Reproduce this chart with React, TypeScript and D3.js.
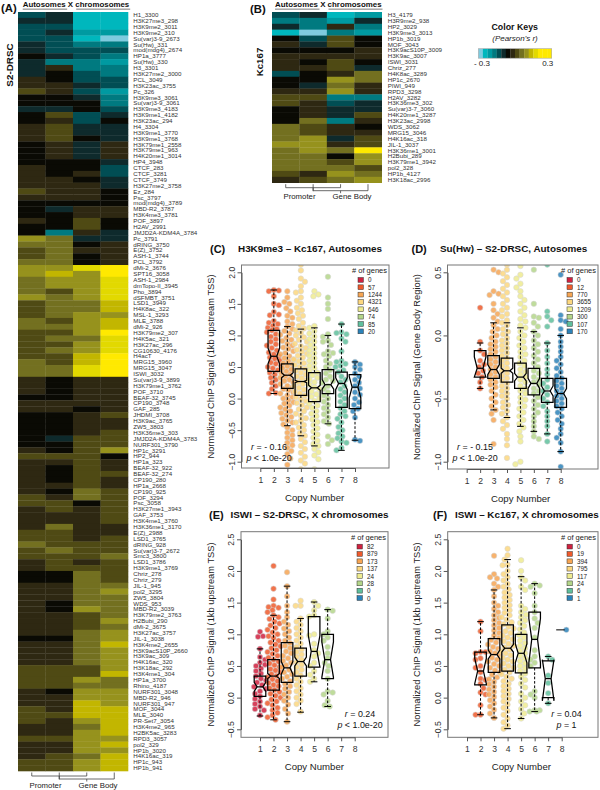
import { useEffect, useRef } from 'react';
import * as d3 from 'd3';

// ---- heatmap data: binned Pearson's r, one step = 0.05 (colour key has 14 bins) ----
const levels = [-6, -5, -4, -3, -2, -1, 0, 1, 2, 3, 4, 5, 6, 7];
const palette = ['#7fcbdf', '#00b7bd', '#009aa1', '#007a80', '#014e54', '#0e2a2c', '#0a0a04', '#2e2812', '#4f4a14', '#737020', '#96921d', '#c2b600', '#e2d900', '#ffe900'];
const columnNames = ['a', 'b', 'c', 'd'];

const labelsA = [
  'H1_3300', 'H3K27me3_298', 'H3K9me2_3011', 'H3K9me2_310', 'Su(var)3-9_2673', 'Su(Hw)_331', 'mod(mdg4)_2674', 'HP1a_3777', 'Su(Hw)_330', 'H3_3301',
  'H3K27me2_3000', 'PCL_3049', 'H3K23ac_3755', 'Pc_326', 'H3K9me3_3061', 'Su(var)3-9_3061', 'H3K9me3_4183', 'H3K9me1_4182', 'H3K23ac_294', 'H4_3304',
  'H3K9me1_3770', 'H3K9me1_3768', 'H3K79me1_2558', 'H3K79me1_963', 'H4K20me1_3014', 'HP4_3948', 'CTCF_283', 'CTCF_3281', 'CTCF_3749', 'H3K27me2_3758',
  'Ez_284', 'Psc_3797', 'mod(mdg4)_3789', 'MBD-R2_3787', 'H3K4me3_3781', 'POF_3897', 'H2AV_2991', 'JMJD2A-KDM4A_3784', 'Pc_3791', 'dRING_3750',
  'E(Z)_3752', 'ASH-1_3744', 'PCL_3792', 'dMi-2_3676', 'SPT16_3058', 'ASH-1_2984', 'dmTopo-II_3945', 'Pho_3894', 'dSFMBT_3751', 'LSD1_3949',
  'H4K8ac_322', 'MSL-1_3293', 'MLE_3788', 'dMi-2_926', 'H3K79me2_307', 'H4K5ac_321', 'H3K27ac_296', 'CG10630_4176', 'H4acT', 'MRG15_3960',
  'MRG15_3047', 'ISWI_3032', 'Su(var)3-9_3899', 'H3K79me1_3762', 'POF_3710', 'BEAF-32_3745', 'CP190_3748', 'GAF_285', 'JHDMI_3708', 'H3K9ac_3765',
  'ZW5_3803', 'H3K36me3_303', 'JMJD2A-KDM4A_3783', 'NURF301_3790', 'HP1c_3291', 'HP2_944', 'HP1a_323', 'BEAF-32_922', 'BEAF-32_274', 'CP190_280',
  'HP1a_2668', 'CP190_925', 'POF_3294', 'Psc_3058', 'H3K27me1_3943', 'GAF_3753', 'H3K4me1_3760', 'H3K36me1_3170', 'E(Z)_2988', 'LSD1_3765',
  'dRING_928', 'Su(var)3-7_2672', 'Smc3_3800', 'LSD1_3786', 'H3K9me1_3769', 'Chriz_278', 'Chriz_279', 'JIL-1_945', 'pol2_3295', 'ZW5_3804',
  'WDS_953', 'MBD-R2_3039', 'H3K79me2_3763', 'H2Bubi_290', 'dMi-2_3675', 'H3K27ac_3757', 'JIL-1_3038', 'H3K4me2_2655', 'H3K9acS10P_2660', 'H3K9ac_309',
  'H4K16ac_320', 'H3K18ac_292', 'H3K4me1_304', 'HP1a_3700', 'Rhino_4187', 'NURF301_3048', 'MBD-R2_946', 'NURF301_947', 'MOF_3044', 'MLE_3040',
  'PR-Set7_3054', 'H3K4me2_965', 'H2BK5ac_3283', 'RPD3_3057', 'pol2_329', 'HP1b_3020', 'H4K16ac_319', 'HP1c_943', 'HP1b_941',
];

const heatA1 = [
  -2, -1, -2, -2, -2, -1, -1, 0, -1, -1, -1, 1, 1, 2, 0, 0, -1, 0, 0, 1, 1, 1, 0, 0, 0, 0, 1, 1, 1, 1, 2, 1,
  0, 0, 0, 1, 0, 0, 4, 3, 2, 2, 3, 4, 4, 3, 3, 3, 4, 2, 2, 2, 3, 3, 2, 2, 2, 2, 2, 3, 3, 3, 1, 1, 1, 0,
  1, 1, 0, 0, 0, 0, 0, 0, 1, 2, 1, 1, 1, 1, 1, 1, 2, 2, 1, 1, 1, 1, 2, 2, 3, 2, 2, 1, 1, 0, 0, 1,
  1, 1, 1, 1, 1, 1, 1, 1, 0, 1, 1, 1, 1, 2, 2, 2, 2, 1, 1, 1, 2, 2, 2, 1, 1, 2, 1, 1, 1, 2, 2,
];
const heatA2 = [
  -1, -1, -2, -1, -2, -2, -2, -1, -3, 1, 0, 0, 1, 1, 0, 0, -1, 2, 1, 2, 2, 2, 1, 1, 1, 0, 0, 0, 1, 1, 1, 1,
  0, -1, 0, 0, 0, -3, 3, 3, 3, 3, 3, 4, 5, 4, 4, 2, 3, 3, 3, 3, 2, 3, 2, 3, 2, 3, 2, 2, 3, 3, 0, 0, 0, 0,
  1, 1, 0, 0, 0, 0, -1, 0, 0, 2, 1, 0, 0, 0, 1, 0, 1, 2, 2, 1, 1, 3, 2, 2, 2, 3, 2, 2, 2, 0, 0, 1,
  1, 1, 0, 0, 1, 1, 1, 1, 0, 1, 1, 1, 1, 2, 2, 2, 2, 0, 1, 1, 1, 2, 1, 1, 1, 2, 1, 1, 2, 2, 2,
];
const heatA3 = [
  -5, -5, -5, -4, -5, -3, -2, -2, -3, -3, -2, -2, -1, -2, -1, 0, 0, -2, -2, -1, -1, 0, -1, -1, -1, 0, 0, 1, 0, 1, 1, 1,
  0, 1, 1, 2, 2, 1, -1, 0, 1, 0, 0, 6, 4, 4, 4, 4, 4, 3, 3, 4, 4, 4, 4, 3, 4, 4, 5, 5, 6, 6, 1, 1, 1, 1,
  1, 0, 1, 1, 1, 1, 2, 2, 2, 2, 2, 2, 2, 2, 2, 3, 3, 0, 1, 1, 1, 1, 1, 1, 2, 2, 2, 1, 2, 3, 3, 3,
  3, 3, 3, 4, 2, 2, 2, 3, 3, 3, 3, 3, 3, 2, 2, 4, 3, 4, 4, 5, 5, 5, 4, 3, 4, 4, 4, 4, 3, 4, 4,
];
const heatA4 = [
  -5, -5, -5, -4, -6, -3, -2, -3, -4, -3, -3, -2, -2, -4, -3, -3, -2, -1, 0, -1, -1, -1, 1, 1, 1, -1, -2, -2, -1, -1, 0, 0,
  0, 1, 1, 0, 0, -1, -1, 1, 1, 1, 1, 7, 7, 6, 6, 6, 6, 5, 5, 4, 5, 5, 7, 6, 6, 6, 7, 7, 7, 7, 1, 1, 1, 1,
  1, 1, 2, 1, 1, 2, 2, 2, 4, 0, 1, 1, 2, 1, 1, 2, 2, 2, 2, 2, 2, 1, 1, 2, 2, 2, 3, 2, 2, 2, 2, 3,
  4, 3, 3, 3, 3, 4, 3, 4, 4, 5, 4, 4, 4, 4, 5, 3, 3, 4, 4, 4, 5, 5, 5, 5, 5, 4, 5, 4, 5, 5, 5,
];

const labelsB = [
  'H3_4179', 'H3R9me2_938', 'HP2_3029', 'H3K9me3_3013', 'HP1b_3019', 'MOF_3043', 'H3K9acS10P_3009', 'H3K9ac_3007', 'ISWI_3031', 'Chriz_277',
  'H4K8ac_3289', 'HP1c_2670', 'PIWI_949', 'RPD3_3298', 'H2AV_3282', 'H3K36me3_302', 'Su(var)3-7_3060', 'H4K20me1_3287', 'H3K23ac_2998', 'WDS_3062',
  'MRG15_3046', 'H4K16ac_318', 'JIL-1_3037', 'H3K36me1_3001', 'H2Bubi_289', 'H3K79me1_3942', 'pol2_328', 'HP1b_4127', 'H3K18ac_2996',
];
const heatB1 = [-2, -3, -1, -5, 0, 1, 0, 1, 1, 1, -2, 0, 0, 1, 2, 2, 0, 0, 0, 3, 3, 3, 4, 3, 3, 3, 3, 2, 1];
const heatB2 = [-1, -3, -3, -6, -2, -1, 0, 1, 0, 1, 0, 0, -1, 1, 2, 1, 1, 1, 3, 2, 2, 4, 4, 4, 3, 3, 3, 1, 2];
const heatB3 = [-5, -4, 1, -3, 2, 2, 0, 1, 2, 2, 1, 4, 3, 4, -3, -2, -1, -1, -3, 1, 1, -1, 1, 3, 0, 2, 3, 4, 3];
const heatB4 = [-4, -1, -3, -4, 0, 0, 1, 1, 0, -1, 3, 3, 1, 1, -3, -1, -1, 2, 1, 0, 1, 2, 2, 7, 4, 4, 2, 3, 4];

// ---- boxplot panels: copy number -> signal values ----
const copyNumbers = [1, 2, 3, 4, 5, 6, 7, 8];
const copyColors = ['#d0213f', '#ee5a2c', '#f6a553', '#fcd77f', '#eeeb8f', '#b4d689', '#5fbf9c', '#2b83ba'];

const cPts2 = [1.72, 1.71, 1.7, 1.62, 1.5, 1.48, 1.37, 1.33, 1.32, 1.23, 1.2, 1.18, 1.15, 1.12, 1.1, 1.08, 1.05, 1.02, 0.98, 0.94, 0.9, 0.86, 0.84, 0.8, 0.76, 0.73, 0.7, 0.67, 0.65, 0.63, 0.6, 0.57, 0.55, 0.52, 0.5, 0.48, 0.45, 0.41, 0.38, 0.33, 0.3, 0.25, 0.2, 0.15, 0.09, 0.08];
const cPts3 = [1.7, 1.6, 1.53, 1.5, 1.43, 1.38, 1.31, 1.28, 1.22, 1.18, 1.14, 1.1, 1.07, 1.03, 1.01, 0.96, 0.93, 0.91, 0.87, 0.84, 0.81, 0.79, 0.75, 0.72, 0.7, 0.67, 0.64, 0.62, 0.59, 0.56, 0.54, 0.51, 0.48, 0.46, 0.43, 0.4, 0.38, 0.35, 0.33, 0.3, 0.28, 0.25, 0.23, 0.2, 0.18, 0.15, 0.13, 0.1, 0.08, 0.05, 0.02, 0, -0.03, -0.06, -0.08, -0.11, -0.14, -0.17, -0.2, -0.23, -0.26, -0.29, -0.32, -0.35, -0.38, -0.41, -0.46, -0.5, -0.54, -0.58, -0.62, -0.66, -0.7, -0.74, -0.78, -0.83, -0.88, -0.95, -1.05];
const cPts4 = [2.12, 2.03, 1.9, 1.85, 1.78, 1.7, 1.68, 1.6, 1.55, 1.5, 1.44, 1.4, 1.35, 1.31, 1.26, 1.2, 1.15, 1.11, 1.08, 1.04, 1, 0.97, 0.93, 0.9, 0.87, 0.83, 0.8, 0.77, 0.74, 0.71, 0.68, 0.65, 0.62, 0.59, 0.56, 0.53, 0.5, 0.47, 0.44, 0.41, 0.38, 0.35, 0.32, 0.29, 0.26, 0.23, 0.2, 0.17, 0.14, 0.11, 0.08, 0.05, 0.02, -0.01, -0.04, -0.07, -0.1, -0.14, -0.17, -0.2, -0.24, -0.27, -0.31, -0.35, -0.38, -0.42, -0.46, -0.5, -0.55, -0.59, -0.64, -0.69, -0.75, -0.8, -0.86, -0.92, -0.98, -1.03, -1.12];
const cPts5 = [1.7, 1.65, 1.62, 1.15, 1.12, 1.07, 1.03, 0.98, 0.94, 0.9, 0.85, 0.8, 0.76, 0.72, 0.68, 0.64, 0.6, 0.56, 0.52, 0.48, 0.44, 0.41, 0.37, 0.33, 0.3, 0.26, 0.22, 0.18, 0.15, 0.11, 0.07, 0.03, 0, -0.04, -0.08, -0.11, -0.15, -0.2, -0.24, -0.28, -0.33, -0.37, -0.42, -0.47, -0.52, -0.57, -0.62, -0.67, -0.72, -0.75, -0.8, -0.85, -0.9, -0.96, -1.12];
const cPts6 = [1.93, 1.6, 1.5, 1.42, 1.26, 1.02, 0.98, 0.92, 0.9, 0.85, 0.75, 0.72, 0.7, 0.67, 0.6, 0.55, 0.5, 0.45, 0.4, 0.35, 0.3, 0.28, 0.25, 0.2, 0.15, 0.1, 0.05, 0, -0.05, -0.1, -0.15, -0.2, -0.25, -0.3, -0.36, -0.4, -0.6, -0.66, -0.72];
const cPts7 = [1.18, 1.05, 1.04, 1.02, 0.95, 0.9, 0.75, 0.6, 0.58, 0.55, 0.52, 0.5, 0.45, 0.42, 0.35, 0.3, 0.26, 0.2, 0.15, 0.1, 0.05, 0, -0.05, -0.1, -0.15, -0.2, -0.25, -0.28, -0.32, -0.38, -0.45, -0.5, -0.55, -0.6, -0.63, -0.68, -0.7, -0.78, -0.82];
const cPts8 = [0.58, 0.54, 0.5, 0.46, 0.4, 0.35, 0.3, 0.25, 0.2, 0.16, 0.1, 0.06, 0, -0.06, -0.1, -0.16, -0.2, -0.3, -0.65, -0.67];
const cCounts = ['0', '57', '1244', '4321', '646', '74', '85', '20'];
const cLow = [null, 0.08, -0.43, -0.59, -0.75, -0.4, -0.82, -0.66];
const cQ1 = [null, 0.43, 0.16, 0.05, -0.05, 0.08, -0.14, -0.16];
const cMed = [null, 0.67, 0.37, 0.27, 0.17, 0.22, 0.24, 0.18];
const cQ3 = [null, 1.08, 0.55, 0.47, 0.41, 0.46, 0.42, 0.38];
const cHigh = [null, 1.72, 1.14, 1.1, 1.12, 1, 1.18, 0.58];
const cNotchLo = [null, 0.55, 0.33, 0.25, 0.13, 0.15, 0.14, 0.01];
const cNotchHi = [null, 0.8, 0.41, 0.29, 0.21, 0.3, 0.33, 0.35];

const dPts2 = [0.22, -0.05, -0.12, -0.15, -0.2, -0.23, -0.25, -0.28, -0.3, -0.33, -0.37, -0.42];
const dPts3 = [0.52, 0.5, 0.35, 0.33, 0.32, 0.25, 0.2, 0.17, 0.14, 0.11, 0.08, 0.05, 0.03, 0, -0.02, -0.05, -0.07, -0.09, -0.11, -0.13, -0.15, -0.17, -0.19, -0.21, -0.23, -0.25, -0.27, -0.29, -0.31, -0.33, -0.35, -0.37, -0.39, -0.41, -0.44, -0.47, -0.5, -0.53, -0.56, -0.59, -0.62, -0.67, -0.86];
const dPts4 = [0.56, 0.52, 0.49, 0.46, 0.43, 0.4, 0.37, 0.34, 0.31, 0.28, 0.25, 0.22, 0.2, 0.17, 0.15, 0.12, 0.1, 0.08, 0.05, 0.03, 0.01, -0.02, -0.04, -0.06, -0.08, -0.1, -0.12, -0.14, -0.16, -0.18, -0.2, -0.22, -0.24, -0.26, -0.28, -0.3, -0.32, -0.34, -0.36, -0.38, -0.4, -0.42, -0.44, -0.46, -0.48, -0.5, -0.53, -0.55, -0.57, -0.6, -0.62, -0.65, -0.68, -0.71, -0.74, -0.78, -0.82, -0.87, -0.97];
const dPts5 = [0.55, 0.48, 0.45, 0.41, 0.38, 0.35, 0.31, 0.28, 0.25, 0.22, 0.19, 0.16, 0.13, 0.11, 0.08, 0.06, 0.03, 0, -0.02, -0.05, -0.08, -0.1, -0.13, -0.15, -0.17, -0.2, -0.22, -0.24, -0.27, -0.29, -0.31, -0.33, -0.35, -0.37, -0.4, -0.42, -0.44, -0.46, -0.49, -0.51, -0.53, -0.56, -0.58, -0.61, -0.64, -0.67, -0.7, -0.73, -0.76, -0.8, -0.84, -1, -1.02];
const dPts6 = [0.52, 0.25, 0.15, 0.14, 0.1, 0.07, 0.03, 0, -0.04, -0.07, -0.1, -0.13, -0.16, -0.19, -0.22, -0.25, -0.28, -0.3, -0.33, -0.35, -0.37, -0.39, -0.42, -0.44, -0.46, -0.49, -0.52, -0.55, -0.58, -0.61, -0.64, -0.68, -0.72, -0.76, -0.8, -0.82];
const dPts7 = [0.56, 0.19, 0.15, 0.12, 0.07, -0.06, -0.12, -0.17, -0.22, -0.27, -0.31, -0.35, -0.38, -0.41, -0.44, -0.47, -0.5, -0.53, -0.56, -0.6, -0.64, -0.68, -0.72, -0.78, -0.84];
const dPts8 = [0.48, 0.16, 0.12, 0.11, 0.05, 0, -0.05, -0.09, -0.13, -0.17, -0.2, -0.23, -0.26, -0.29, -0.32, -0.34, -0.36, -0.38, -0.4, -0.42, -0.44, -0.46, -0.48, -0.5, -0.52, -0.54, -0.56, -0.58, -0.61, -0.64, -0.67, -0.7, -0.74, -0.78, -0.81, -0.85, -0.92, -1.04];
const dCounts = ['0', '12', '770', '3655', '1209', '300', '107', '170'];
const dLow = [null, -0.42, -0.59, -0.65, -0.72, -0.76, -0.78, -0.92];
const dQ1 = [null, -0.33, -0.34, -0.37, -0.42, -0.47, -0.53, -0.57];
const dMed = [null, -0.26, -0.27, -0.28, -0.33, -0.38, -0.44, -0.46];
const dQ3 = [null, -0.12, -0.16, -0.18, -0.22, -0.26, -0.34, -0.34];
const dHigh = [null, -0.06, 0.1, 0.1, 0.06, 0.03, -0.06, 0];
const dNotchLo = [null, -0.33, -0.31, -0.3, -0.36, -0.42, -0.48, -0.5];
const dNotchHi = [null, -0.17, -0.23, -0.26, -0.3, -0.34, -0.4, -0.42];

const ePts1 = [1.04, 0.97, 0.96, 0.77, 0.64, 0.6, 0.55, 0.52, 0.5, 0.46, 0.42, 0.38, 0.34, 0.3, 0.27, 0.24, 0.2, 0.17, 0.14, 0.1, 0.06, 0.02, -0.02, -0.06, -0.1, -0.14, -0.18, -0.2, -0.28];
const ePts2 = [2.08, 1.72, 1.55, 1.45, 1.43, 1.42, 1.38, 1.35, 1.3, 1.27, 1.24, 1.2, 1.17, 1.14, 1.1, 1.07, 1.03, 1, 0.97, 0.94, 0.9, 0.87, 0.84, 0.81, 0.78, 0.75, 0.72, 0.69, 0.66, 0.63, 0.6, 0.57, 0.54, 0.51, 0.48, 0.45, 0.43, 0.4, 0.37, 0.34, 0.32, 0.29, 0.26, 0.23, 0.2, 0.18, 0.15, 0.12, 0.09, 0.06, 0.03, 0, -0.03, -0.06, -0.09, -0.12, -0.16, -0.2, -0.24, -0.28, -0.31, -0.35];
const ePts3 = [1.98, 1.76, 1.6, 1.45, 1.35, 1.27, 1.2, 1.15, 1.09, 1.05, 1, 0.95, 0.9, 0.86, 0.82, 0.78, 0.73, 0.7, 0.66, 0.62, 0.58, 0.55, 0.51, 0.48, 0.44, 0.4, 0.37, 0.33, 0.3, 0.26, 0.22, 0.18, 0.14, 0.09, 0.05, 0, -0.05, -0.11, -0.18, -0.25, -0.38];
const ePts4 = [1.53, 1.45, 1.45, 1.25, 1.2, 1.15, 1.1, 1.05, 1, 0.95, 0.9, 0.85, 0.8, 0.76, 0.72, 0.68, 0.64, 0.6, 0.56, 0.52, 0.48, 0.44, 0.4, 0.35, 0.3, 0.25, 0.2, 0.15, 0.1, 0.05, 0, -0.05, -0.1, -0.22];
const ePts5 = [1.51, 1.45, 1.38, 1.3, 1.28, 1, 0.98, 0.85, 0.75, 0.7, 0.65, 0.55, 0.5, 0.42, 0.36, 0.3, 0.25];
const ePts6 = [1.39, 1.37, 1.25, 1.05, 1, 0.95, 0.9, 0.8, 0.7, 0.62, 0.55, 0.5, 0.42, 0.3, 0.1, 0.08, 0.05, -0.05, -0.12, -0.14];
const eCounts = ['82', '879', '173', '137', '24', '28', '0', '0'];
const eLow = [-0.29, -0.35, -0.38, -0.23, 0.25, -0.14, null, null];
const eQ1 = [0.02, 0.12, 0.24, 0.34, 0.48, 0.3, null, null];
const eMed = [0.17, 0.34, 0.47, 0.57, 0.73, 0.6, null, null];
const eQ3 = [0.34, 0.6, 0.87, 0.78, 1.28, 1, null, null];
const eHigh = [0.77, 1.3, 1.76, 1.25, 1.51, 1.39, null, null];
const eNotchLo = [0.1, 0.3, 0.37, 0.5, 0.48, 0.32, null, null];
const eNotchHi = [0.24, 0.38, 0.57, 0.64, 0.98, 0.88, null, null];

const fPts2 = [1.2, 1.05, 0.72, 0.72, 0.7, 0.62, 0.6, 0.5, 0.47, 0.4, 0.3, 0.28, 0.22, 0.15, 0.08, 0.05, -0.12, -0.27, -0.27];
const fPts3 = [2.24, 1.95, 1.9, 1.88, 1.8, 1.75, 1.7, 1.6, 1.5, 1.45, 1.4, 1.35, 1.3, 1.26, 1.22, 1.18, 1.14, 1.1, 1.06, 1.02, 0.98, 0.94, 0.91, 0.87, 0.84, 0.8, 0.77, 0.73, 0.7, 0.67, 0.63, 0.6, 0.57, 0.53, 0.5, 0.47, 0.43, 0.4, 0.36, 0.32, 0.29, 0.25, 0.21, 0.17, 0.13, 0.09, 0.05, 0.01, -0.04, -0.09, -0.14, -0.19, -0.25, -0.32];
const fPts4 = [2.35, 2.25, 2.18, 2.1, 2.09, 2, 1.95, 1.9, 1.85, 1.8, 1.75, 1.71, 1.66, 1.62, 1.58, 1.54, 1.5, 1.46, 1.42, 1.38, 1.34, 1.3, 1.27, 1.23, 1.19, 1.16, 1.12, 1.09, 1.05, 1.02, 0.98, 0.95, 0.92, 0.89, 0.85, 0.82, 0.79, 0.76, 0.73, 0.7, 0.67, 0.63, 0.6, 0.57, 0.54, 0.5, 0.47, 0.44, 0.4, 0.37, 0.33, 0.3, 0.26, 0.22, 0.18, 0.14, 0.1, 0.06, 0.02, -0.02, -0.06, -0.11, -0.16, -0.21, -0.27, -0.33, -0.39, -0.44, -0.49];
const fPts5 = [2.17, 2, 1.9, 1.85, 1.75, 1.7, 1.45, 1.4, 1.35, 1.31, 1.27, 1.22, 1.18, 1.13, 1.08, 1.03, 0.99, 0.95, 0.9, 0.86, 0.82, 0.78, 0.74, 0.7, 0.66, 0.62, 0.58, 0.54, 0.5, 0.46, 0.42, 0.38, 0.33, 0.28, 0.22, 0.16, 0.06, 0, -0.06, -0.12, -0.18, -0.25, -0.33];
const fPts6 = [1.8, 1.77, 1.75, 1.65, 1.45, 1.35, 1.25, 1.18, 1.1, 0.95, 0.75, 0.65, 0.6, 0.55, 0.5, 0.1, 0.05, 0, -0.2, -0.22, -0.22, -0.2];
const fPts7 = [0.65, 0.6, 0.35, 0.23, 0.07, -0.09];
const fPts8 = [1.07];
const fCounts = ['0', '19', '394', '795', '117', '24', '6', '1'];
const fLow = [null, -0.27, -0.32, -0.49, -0.33, -0.22, -0.09, null];
const fQ1 = [null, 0.2, 0.4, 0.42, 0.39, 0.47, 0, null];
const fMed = [null, 0.42, 0.68, 0.78, 0.7, 0.92, 0.3, 1.07];
const fQ3 = [null, 0.72, 0.93, 1.15, 1, 1.35, 0.58, null];
const fHigh = [null, 1.2, 1.7, 2.18, 1.91, 1.8, 0.65, null];
const fNotchLo = [null, 0.22, 0.61, 0.72, 0.55, 0.55, -0.05, null];
const fNotchHi = [null, 0.62, 0.75, 0.84, 0.85, 1.25, 0.6, null];

const FONT = '"Liberation Sans", Arial, sans-serif';

const panels = [
  {
    tag: '(C)', tagX: 210, title: 'H3K9me3 – Kc167, Autosomes', titleX: 238, titleY: 252,
    frame: [241.5, 265, 389, 468], xRange: [260.3, 355], yDomain: [-1, 2], yRange: [461.7, 272.3],
    yTicks: [-1, -0.5, 0, 0.5, 1, 1.5, 2], yLabel: 'Normalized ChIP Signal (1kb upstream TSS)',
    groups: [[], cPts2, cPts3, cPts4, cPts5, cPts6, cPts7, cPts8], counts: cCounts,
    low: cLow, q1: cQ1, med: cMed, q3: cQ3, high: cHigh, notchLo: cNotchLo, notchHi: cNotchHi,
    r: 'r = - 0.16', p: 'p < 1.0e-20', statX: 269, statY: 450,
  },
  {
    tag: '(D)', tagX: 411.5, title: 'Su(Hw) – S2-DRSC, Autosomes', titleX: 440, titleY: 252,
    frame: [447.5, 265, 598, 469], xRange: [466.7, 560.7], yDomain: [-1, 0.5], yRange: [461.7, 272.3],
    yTicks: [-1, -0.5, 0, 0.5], yLabel: 'Normalized ChIP Signal (Gene Body Region)',
    groups: [[], dPts2, dPts3, dPts4, dPts5, dPts6, dPts7, dPts8], counts: dCounts,
    low: dLow, q1: dQ1, med: dMed, q3: dQ3, high: dHigh, notchLo: dNotchLo, notchHi: dNotchHi,
    r: 'r = - 0.15', p: 'p < 1.0e-20', statX: 475, statY: 450,
  },
  {
    tag: '(E)', tagX: 209, title: 'ISWI – S2-DRSC, X chromosomes', titleX: 230.5, titleY: 518,
    frame: [241, 531.7, 388, 737.3], xRange: [260, 354.7], yDomain: [-0.5, 2.5], yRange: [729.3, 539.3],
    yTicks: [-0.5, 0, 0.5, 1, 1.5, 2, 2.5], yLabel: 'Normalized ChIP Signal (1kb upstream TSS)',
    groups: [ePts1, ePts2, ePts3, ePts4, ePts5, ePts6, [], []], counts: eCounts,
    low: eLow, q1: eQ1, med: eMed, q3: eQ3, high: eHigh, notchLo: eNotchLo, notchHi: eNotchHi,
    r: 'r = 0.24', p: 'p < 1.0e-20', statX: 360, statY: 717,
  },
  {
    tag: '(F)', tagX: 433, title: 'ISWI – Kc167, X chromosomes', titleX: 455, titleY: 518,
    frame: [447.7, 531.7, 598, 737.3], xRange: [467, 561.7], yDomain: [-0.5, 2.5], yRange: [729.3, 539.3],
    yTicks: [-0.5, 0, 0.5, 1, 1.5, 2, 2.5], yLabel: 'Normalized ChIP Signal (1kb upstream TSS)',
    groups: [[], fPts2, fPts3, fPts4, fPts5, fPts6, fPts7, fPts8], counts: fCounts,
    low: fLow, q1: fQ1, med: fMed, q3: fQ3, high: fHigh, notchLo: fNotchLo, notchHi: fNotchHi,
    r: 'r = 0.04', p: 'p = 1', statX: 566.5, statY: 717,
  },
];

// packs values around the centre line so circles spread sideways, like a beeswarm
function swarm(values: number[], y: (v: number) => number, dist: number, maxW: number) {
  const placed: { v: number; off: number; py: number }[] = [];
  [...values].sort((a, b) => b - a).forEach((v, i) => {
    const py = y(v);
    const sign = i % 2 ? 1 : -1;
    let best = 0;
    let bestD = -1;
    for (let k = 0; k <= maxW * 2; k++) {
      const off = (k % 2 ? 1 : -1) * sign * Math.ceil(k / 2);
      let minD = Infinity;
      placed.forEach(p => {
        minD = Math.min(minD, Math.hypot(p.off - off, p.py - py));
      });
      if (minD >= dist) {
        best = off;
        bestD = minD;
        break;
      }
      if (minD > bestD) {
        bestD = minD;
        best = off;
      }
    }
    placed.push({ v, off: best, py });
  });
  return placed;
}

function drawHeatmap(svg: any, labels: string[], columns: number[][], x0: number, x1: number, y0: number, y1: number, labelX: number, headX: number) {
  const color = d3.scaleOrdinal<number, string>().domain(levels).range(palette);
  const x = d3.scaleBand().domain(columnNames).range([x0, x1]);
  const y = d3.scaleBand().domain(labels.map((_, i) => String(i))).range([y0, y1]);

  columns.forEach((values, c) => {
    svg.append('g')
      .selectAll('rect')
      .data(values)
      .enter().append('rect')
      .attr('x', x(columnNames[c]))
      .attr('y', (_: number, i: number) => y(String(i)))
      .attr('width', x.bandwidth() + 0.3)
      .attr('height', y.bandwidth() + 0.3)
      .attr('fill', (d: number) => color(d));
  });

  svg.append('g')
    .attr('font-family', FONT)
    .attr('font-size', 6.2)
    .attr('fill', '#333')
    .selectAll('text')
    .data(labels)
    .enter().append('text')
    .attr('x', labelX)
    .attr('y', (_: string, i: number) => y(String(i))! + y.bandwidth() / 2 + 2.2)
    .text((d: string) => d);

  // brackets under the heatmap
  const centre = (i: number) => x(columnNames[i])! + x.bandwidth() / 2;
  const bracket = (a: number, b: number, top: number, yy: number, drop: number, name: string, nameX: number) => {
    const mid = (centre(a) + centre(b)) / 2;
    const line = d3.line();
    svg.append('path')
      .attr('fill', 'none')
      .attr('stroke', '#444')
      .attr('stroke-width', 0.8)
      .attr('d', line([[centre(a), top], [centre(a), yy], [centre(b), yy], [centre(b), top]]));
    svg.append('path')
      .attr('fill', 'none')
      .attr('stroke', '#444')
      .attr('stroke-width', 0.8)
      .attr('d', line([[mid, yy], [mid, yy + drop]]));
    svg.append('text')
      .attr('x', nameX)
      .attr('y', y1 + 16.5)
      .attr('text-anchor', 'middle')
      .attr('font-family', FONT)
      .attr('font-size', 7.8)
      .attr('fill', '#222')
      .text(name);
  };
  bracket(0, 2, y1 + 1.5, y1 + 5, 3.5, 'Promoter', x0 + 27.5);
  bracket(1, 3, y1 + 1.5, y1 + 8, 2.5, 'Gene Body', x0 + 80);

  // column group header
  const head = svg.append('g').attr('font-family', FONT).attr('font-weight', 'bold');
  head.append('text').attr('x', headX).attr('y', 7).attr('font-size', 7.9).attr('fill', '#111').text('Autosomes X chromosomes');
  head.append('rect').attr('x', headX).attr('y', 8.6).attr('width', 44.5).attr('height', 1.1).attr('fill', '#888');
  head.append('rect').attr('x', headX + 53.5).attr('y', 8.6).attr('width', 54).attr('height', 1.1).attr('fill', '#888');
}

function drawPanel(svg: any, cfg: any, index: number) {
  const [fx0, fy0, fx1, fy1] = cfg.frame;
  const x = d3.scaleLinear().domain([1, 8]).range(cfg.xRange);
  const y = d3.scaleLinear().domain(cfg.yDomain).range(cfg.yRange);
  const g = svg.append('g').attr('font-family', FONT);

  g.append('text').attr('x', cfg.tagX).attr('y', cfg.titleY + 1).attr('font-size', 11).attr('font-weight', 'bold').attr('fill', '#111').text(cfg.tag);
  g.append('text').attr('x', cfg.titleX).attr('y', cfg.titleY).attr('font-size', 9.9).attr('font-weight', 'bold').attr('fill', '#111').text(cfg.title);

  const clipId = `clip-${index}`;
  g.append('clipPath').attr('id', clipId).append('rect')
    .attr('x', fx0).attr('y', fy0).attr('width', fx1 - fx0).attr('height', fy1 - fy0);

  // swarm points
  const pts = g.append('g').attr('clip-path', `url(#${clipId})`);
  cfg.groups.forEach((values: number[], i: number) => {
    // lone gene sits right of the centre line in the original
    const shift = values.length === 1 ? 4.6 : 0;
    pts.selectAll(`.pt-${i}`)
      .data(swarm(values, y, 5, 6.5))
      .enter().append('circle')
      .attr('class', `pt-${i}`)
      .attr('cx', (d: any) => x(i + 1) + d.off + shift)
      .attr('cy', (d: any) => d.py)
      .attr('r', 2.75)
      .attr('fill', copyColors[i])
      .attr('fill-opacity', 0.85)
      .attr('stroke', '#d6d6d6')
      .attr('stroke-width', 0.55);
  });

  // notched boxes
  const boxes = g.append('g').attr('fill', 'none').attr('stroke', '#000');
  copyNumbers.forEach((cn, i) => {
    const cx = x(cn);
    if (cfg.q1[i] === null) {
      if (cfg.med[i] !== null) {
        boxes.append('line').attr('x1', cx - 5.5).attr('x2', cx + 3).attr('y1', y(cfg.med[i])).attr('y2', y(cfg.med[i])).attr('stroke-width', 1);
      }
      return;
    }
    const half = 5.8;
    const waist = 2.9;
    const outline = d3.line<[number, number]>().x(d => cx + d[0]).y(d => y(d[1]));
    boxes.append('path')
      .attr('stroke-width', 1.25)
      .attr('d', outline([
        [-half, cfg.q1[i]], [half, cfg.q1[i]], [half, cfg.notchLo[i]], [waist, cfg.med[i]], [half, cfg.notchHi[i]],
        [half, cfg.q3[i]], [-half, cfg.q3[i]], [-half, cfg.notchHi[i]], [-waist, cfg.med[i]], [-half, cfg.notchLo[i]],
      ]) + 'Z');
    boxes.append('line').attr('x1', cx - waist).attr('x2', cx + waist).attr('y1', y(cfg.med[i])).attr('y2', y(cfg.med[i])).attr('stroke-width', 1.25);
    [[cfg.q3[i], cfg.high[i]], [cfg.q1[i], cfg.low[i]]].forEach(([from, to]) => {
      boxes.append('line').attr('x1', cx).attr('x2', cx).attr('y1', y(from)).attr('y2', y(to))
        .attr('stroke-width', 1).attr('stroke-dasharray', '2.6,1.8');
      boxes.append('line').attr('x1', cx - 3.3).attr('x2', cx + 3.3).attr('y1', y(to)).attr('y2', y(to)).attr('stroke-width', 1);
    });
  });

  // frame and axes
  g.append('rect').attr('x', fx0).attr('y', fy0).attr('width', fx1 - fx0).attr('height', fy1 - fy0)
    .attr('fill', 'none').attr('stroke', '#777').attr('stroke-width', 1);

  const xAxis = g.append('g').attr('transform', `translate(0,${fy1})`)
    .call(d3.axisBottom(x).tickValues(copyNumbers).tickFormat(d3.format('d')).tickSize(4).tickSizeOuter(0));
  xAxis.selectAll('text').attr('font-size', 8.6).attr('font-family', FONT).attr('fill', '#333').attr('y', 9);
  xAxis.selectAll('path,line').attr('stroke', '#555');

  const yAxis = g.append('g').attr('transform', `translate(${fx0},0)`)
    .call(d3.axisLeft(y).tickValues(cfg.yTicks).tickFormat((d: any) => d3.format('.1f')(d).replace('-', '−')).tickSize(4).tickSizeOuter(0));
  yAxis.selectAll('text')
    .attr('font-size', 8.6).attr('font-family', FONT).attr('fill', '#333')
    .attr('transform', 'rotate(-90)').attr('text-anchor', 'middle')
    .attr('x', 0).attr('y', -7).attr('dy', 0);
  yAxis.selectAll('path,line').attr('stroke', '#555');

  g.append('text')
    .attr('transform', `translate(${fx0 - 27.5},${(fy0 + fy1) / 2}) rotate(-90)`)
    .attr('text-anchor', 'middle').attr('font-size', 9.3).attr('fill', '#222').text(cfg.yLabel);
  g.append('text')
    .attr('x', (cfg.xRange[0] + cfg.xRange[1]) / 2 + 7).attr('y', fy1 + 32.7)
    .attr('text-anchor', 'middle').attr('font-size', 9.6).attr('fill', '#222').text('Copy Number');

  // legend
  const legendRight = fx1 - 2;
  g.append('text').attr('x', legendRight).attr('y', fy0 + 8).attr('text-anchor', 'end')
    .attr('font-size', 7.5).attr('fill', '#222').text('# of genes');
  const legend = g.append('g').selectAll('g').data(cfg.counts).enter().append('g')
    .attr('transform', (_: any, i: number) => `translate(${fx1 - 31},${fy0 + 12.5 + i * 7.35})`);
  legend.append('rect').attr('width', 5.4).attr('height', 4.8)
    .attr('fill', (_: any, i: number) => copyColors[i]).attr('stroke', '#333').attr('stroke-width', 0.5);
  legend.append('text').attr('x', 10).attr('y', 4.9).attr('font-size', 6.3).attr('fill', '#222').text((d: string) => d);

  // correlation note
  const stat = g.append('g').attr('font-size', 8.9).attr('fill', '#111').attr('text-anchor', 'middle');
  [cfg.r, cfg.p].forEach((txt: string, i: number) => {
    const t = stat.append('text').attr('x', cfg.statX).attr('y', cfg.statY + i * 10.9);
    t.append('tspan').attr('font-style', 'italic').text(txt[0]);
    t.append('tspan').text(txt.slice(1));
  });
}

export default function App() {
  const ref = useRef<SVGSVGElement>(null);

  useEffect(() => {
    const svg = d3.select(ref.current);
    svg.selectAll('*').remove();

    drawHeatmap(svg, labelsA, [heatA1, heatA2, heatA3, heatA4], 18, 128, 12, 771, 133.3, 22.7);
    drawHeatmap(svg, labelsB, [heatB1, heatB2, heatB3, heatB4], 272, 381.7, 12, 182.7, 387.7, 275);

    const tags = svg.append('g').attr('font-family', FONT).attr('font-weight', 'bold').attr('fill', '#111');
    tags.append('text').attr('x', 1).attr('y', 12).attr('font-size', 11.3).text('(A)');
    tags.append('text').attr('x', 250).attr('y', 13).attr('font-size', 11.3).text('(B)');
    tags.append('text').attr('transform', 'translate(12.7,65) rotate(-90)').attr('text-anchor', 'middle').attr('font-size', 9.9).text('S2-DRSC');
    tags.append('text').attr('transform', 'translate(263,62) rotate(-90)').attr('text-anchor', 'middle').attr('font-size', 9.7).text('Kc167');

    // colour key
    const key = svg.append('g').attr('font-family', FONT);
    key.append('text').attr('x', 514.7).attr('y', 30).attr('text-anchor', 'middle').attr('font-size', 8.8).attr('font-weight', 'bold').attr('fill', '#111').text('Color Keys');
    const pearson = key.append('text').attr('x', 515).attr('y', 41).attr('text-anchor', 'middle').attr('font-size', 8).attr('font-style', 'italic').attr('fill', '#222');
    pearson.text("(Pearson's r)");
    const keyBins = [...levels.map(String), '7b', '7c'];
    const keyX = d3.scaleBand().domain(keyBins).range([478.3, 551.7]);
    key.append('g').selectAll('rect').data(keyBins).enter().append('rect')
      .attr('x', (d: string) => keyX(d)!)
      .attr('y', 48.7)
      .attr('width', keyX.bandwidth() + 0.2)
      .attr('height', 9.5)
      .attr('fill', (_: string, i: number) => palette[Math.min(i, palette.length - 1)]);
    key.append('rect').attr('x', 478.3).attr('y', 48.7).attr('width', 73.4).attr('height', 9.5).attr('fill', 'none').attr('stroke', '#aaa').attr('stroke-width', 0.6);
    key.append('text').attr('x', 482).attr('y', 66).attr('text-anchor', 'middle').attr('font-size', 8).attr('fill', '#222').text('- 0.3');
    key.append('text').attr('x', 547.7).attr('y', 66).attr('text-anchor', 'middle').attr('font-size', 8).attr('fill', '#222').text('0.3');

    panels.forEach((cfg, i) => drawPanel(svg, cfg, i));
  }, []);

  return <svg ref={ref} width={600} height={790} style={{ position: 'absolute', left: 0, top: 0, background: '#fff' }} />;
}
